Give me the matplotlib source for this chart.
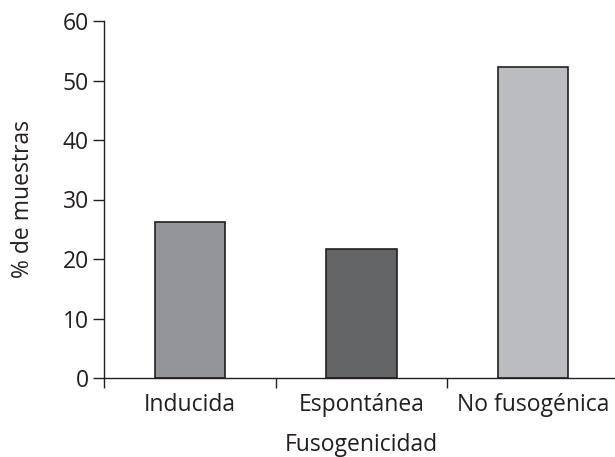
import matplotlib

matplotlib.use("Agg")
import matplotlib.pyplot as plt

plt.rcParams["font.family"] = ["Open Sans", "DejaVu Sans"]

categories = ["Inducida", "Espontánea", "No fusogénica"]
values = [26.3, 21.7, 52.3]
bar_colors = ["#939598", "#636466", "#bbbcc0"]
y_ticks = [0, 10, 20, 30, 40, 50, 60]

fig = plt.figure(figsize=(6.15, 4.57), dpi=100)
ax = fig.add_axes([104 / 615, 1 - 378 / 457, 515 / 615, 357 / 457])

x = list(range(len(categories)))
ax.bar(x, values, width=0.41, color=bar_colors, edgecolor="#231f20", linewidth=1.2)

ax.set_xlim(-0.5, 2.5)
ax.set_ylim(0, 60)
ax.set_yticks(y_ticks)

# ticks between categories, labels centred under bars
ax.set_xticks([-0.5, 0.5, 1.5])
ax.set_xticklabels([])
ax.set_xticks(x, minor=True)
ax.set_xticklabels(categories, minor=True)
ax.tick_params(axis="x", which="minor", length=0, pad=11, labelsize=16.5, colors="#231f20")
ax.tick_params(axis="x", which="major", length=7, width=1, direction="out", color="#231f20")
ax.tick_params(axis="y", length=8, width=1, direction="out", labelsize=16.5, pad=3,
               colors="#231f20")

for side in ["top", "right"]:
    ax.spines[side].set_visible(False)
for side in ["left", "bottom"]:
    ax.spines[side].set_color("#231f20")
    ax.spines[side].set_linewidth(1)

ax.set_xlabel("Fusogenicidad", fontsize=16.5, color="#231f20", labelpad=11)
ax.set_ylabel("% de muestras", fontsize=16.5, color="#231f20", labelpad=20)

fig.savefig("out.png", dpi=100)
